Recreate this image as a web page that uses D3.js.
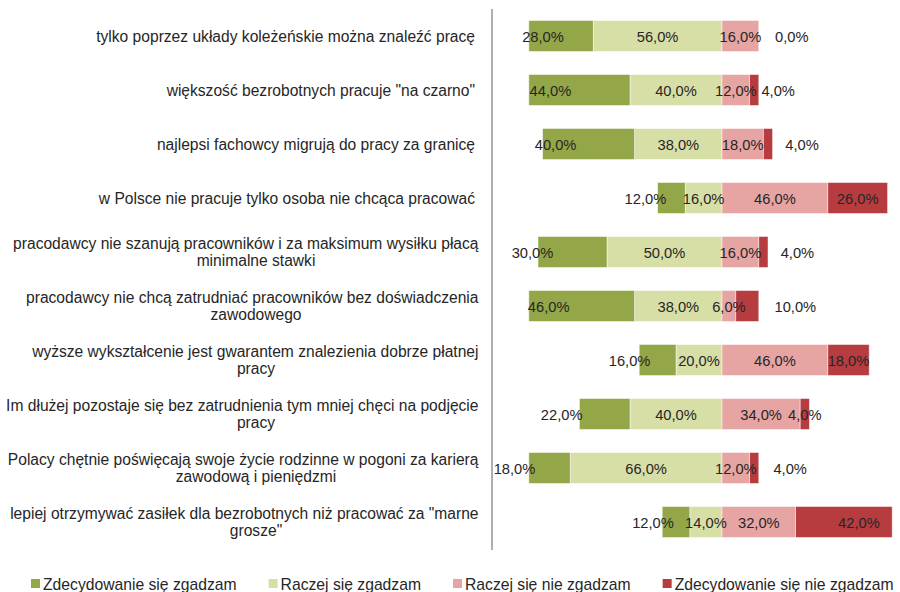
<!DOCTYPE html>
<html lang="pl">
<head>
<meta charset="utf-8">
<script src="https://cdn.jsdelivr.net/npm/d3@7"></script>
<style>
  html, body { margin: 0; padding: 0; background: #fff; }
  svg { display: block; font-family: "Liberation Sans", Arial, sans-serif; }
</style>
</head>
<body>
<svg id="chart" width="900" height="592"></svg>
<script>
// Survey statements (line breaks mark where a label wraps)
const categories = [
  "tylko poprzez układy koleżeńskie można znaleźć pracę",
  "większość bezrobotnych pracuje \"na czarno\"",
  "najlepsi fachowcy migrują do pracy za granicę",
  "w Polsce nie pracuje tylko osoba nie chcąca pracować",
  "pracodawcy nie szanują pracowników i za maksimum wysiłku płacą\nminimalne stawki",
  "pracodawcy nie chcą zatrudniać pracowników bez doświadczenia\nzawodowego",
  "wyższe wykształcenie jest gwarantem znalezienia dobrze płatnej\npracy",
  "Im dłużej pozostaje się bez zatrudnienia tym mniej chęci na podjęcie\npracy",
  "Polacy chętnie poświęcają swoje życie rodzinne w pogoni za karierą\nzawodową i pieniędzmi",
  "lepiej otrzymywać zasiłek dla bezrobotnych niż pracować za \"marne\ngrosze\""
];

const seriesNames = [
  "Zdecydowanie się zgadzam",
  "Raczej się zgadzam",
  "Raczej się nie zgadzam",
  "Zdecydowanie się nie zgadzam"
];

// Answer shares, in percent
const strongAgree    = [28, 44, 40, 12, 30, 46, 16, 22, 18, 12];
const agree          = [56, 40, 38, 16, 50, 38, 20, 40, 66, 14];
const disagree       = [16, 12, 18, 46, 16,  6, 46, 34, 12, 32];
const strongDisagree = [ 0,  4,  4, 26,  4, 10, 18,  4,  4, 42];

const colors = ["#93a748", "#d7dfa7", "#e6a5a3", "#b63c40"];

// Hand-placed label shifts (px) for the outer segments
const outerLeftLabelShift  = [-18, -29, -33, -26, -40, -33, -28, -43, -35, -23];
const outerRightLabelShift = [ 33,  24,  34,   0,  34,  48,   0,   0,  36,  15];

const svg = d3.select("#chart");

// Agreement goes to the left of zero, disagreement to the right
const rows = categories.map((c, i) => ({
  cat: c,
  a2: -agree[i],
  a1: -strongAgree[i],
  d1: disagree[i],
  d2: strongDisagree[i],
  i
}));
const stackKeys = ["a2", "a1", "d1", "d2"];
const keyToSeries = { a1: 0, a2: 1, d1: 2, d2: 3 };
const stacked = d3.stack().keys(stackKeys).offset(d3.stackOffsetDiverging)(rows);

const x = d3.scaleLinear().domain([-100, 80]).range([492, 906]);
const y = d3.scaleBand().domain(categories).range([9, 549])
  .paddingInner(0.426).paddingOuter(0.213);

const pl = d3.formatLocale({ decimal: ",", thousands: " ", grouping: [3], currency: ["", " zł"] });
const fmt = v => pl.format(".1f")(Math.abs(v)) + "%";

// Segment extent; an empty outer-right segment sits at the end of the positive stack
function extent(d, si) {
  if (si === 3 && d[1] === d[0]) {
    const end = disagree[d.data.i];
    return [end, end];
  }
  return [d[0], d[1]];
}

// Bars
const layer = svg.append("g");
stacked.forEach(s => {
  const si = keyToSeries[s.key];
  layer.append("g")
    .attr("fill", colors[si])
    .selectAll("rect")
    .data(s.filter(d => d[1] !== d[0]))
    .join("rect")
    .attr("x", d => x(Math.min(d[0], d[1])))
    .attr("y", d => y(d.data.cat))
    .attr("width", d => Math.abs(x(d[1]) - x(d[0])))
    .attr("height", y.bandwidth())
    .attr("stroke", "#ffffff")
    .attr("stroke-opacity", 0.6)
    .attr("stroke-width", 0.8);
});

// Value labels
const labels = svg.append("g")
  .attr("font-size", "14.7px")
  .attr("fill", "#262626")
  .attr("text-anchor", "middle");
stacked.forEach(s => {
  const si = keyToSeries[s.key];
  labels.append("g").selectAll("text")
    .data(s)
    .join("text")
    .attr("x", d => {
      const [v0, v1] = extent(d, si);
      const c = (x(v0) + x(v1)) / 2;
      if (si === 0) return c + outerLeftLabelShift[d.data.i];
      if (si === 3) return c + outerRightLabelShift[d.data.i];
      return c;
    })
    .attr("y", d => y(d.data.cat) + y.bandwidth() / 2 + 6)
    .text(d => fmt(d[1] - d[0]));
});

// Vertical category axis line
svg.append("line")
  .attr("x1", x(-100)).attr("x2", x(-100))
  .attr("y1", 9).attr("y2", 550)
  .attr("stroke", "#9a9a9a")
  .attr("stroke-width", 1.6);

// Category labels
const catG = svg.append("g").attr("font-size", "15.6px").attr("fill", "#262626");
categories.forEach(c => {
  const lines = c.split("\n");
  const cy = y(c) + y.bandwidth() / 2;
  if (lines.length === 1) {
    catG.append("text")
      .attr("x", 475).attr("y", cy + 5.5)
      .attr("text-anchor", "end")
      .text(lines[0]);
  } else {
    catG.append("text")
      .attr("x", 478.5).attr("y", cy - 3)
      .attr("text-anchor", "end")
      .text(lines[0]);
    catG.append("text")
      .attr("x", 256).attr("y", cy + 14)
      .attr("text-anchor", "middle")
      .text(lines[1]);
  }
});

// Legend
const legend = svg.append("g").attr("font-size", "15.7px").attr("fill", "#262626");
let lx = 31;
seriesNames.forEach((name, i) => {
  legend.append("rect")
    .attr("x", lx).attr("y", 579)
    .attr("width", 9).attr("height", 9)
    .attr("fill", colors[i]);
  const t = legend.append("text")
    .attr("x", lx + 12).attr("y", 589.5)
    .text(name);
  lx += 12 + t.node().getComputedTextLength() + 32;
});
</script>
</body>
</html>
